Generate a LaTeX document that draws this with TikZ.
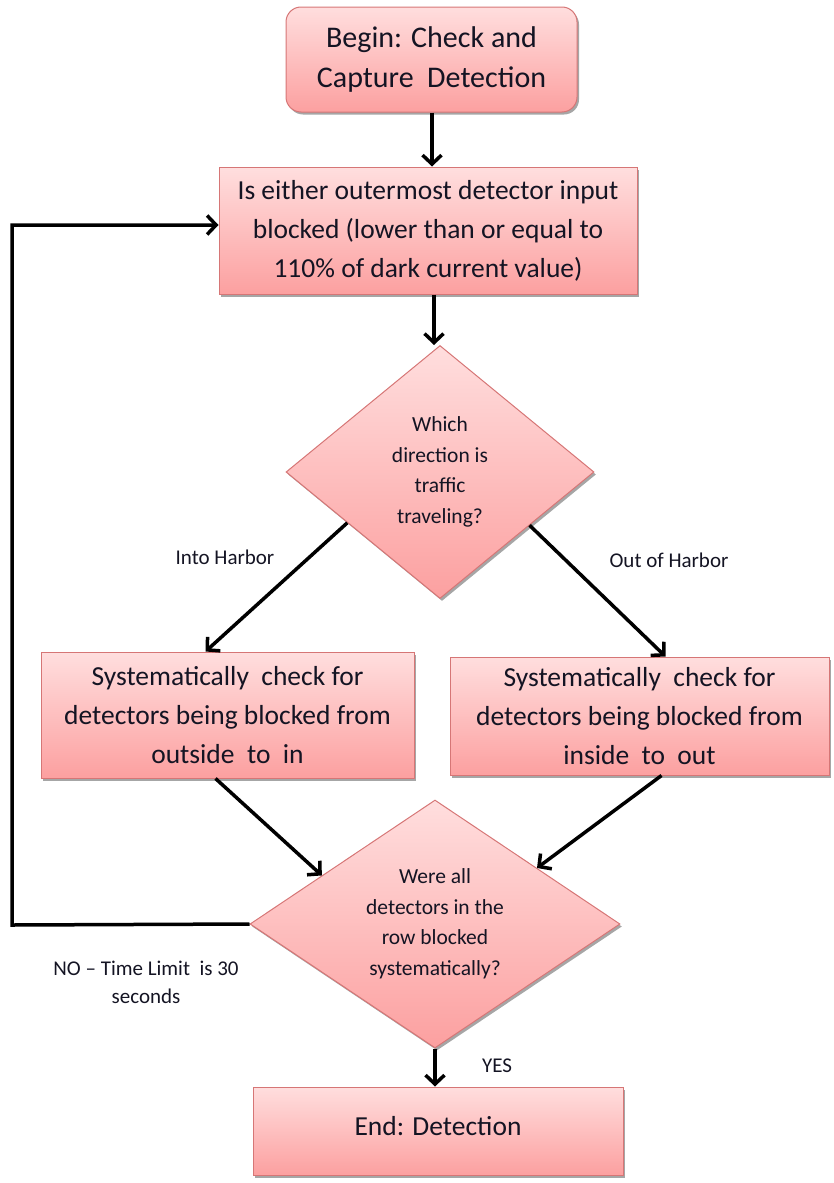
\documentclass[tikz,border=0pt]{standalone}
\usepackage{fontspec}
\setmainfont{Carlito}
\usetikzlibrary{shapes.geometric,shadows,arrows.meta,calc}
\definecolor{topc}{RGB}{255,222,222}
\definecolor{botc}{RGB}{252,160,160}
\definecolor{bordc}{RGB}{214,118,118}
\definecolor{txtc}{RGB}{20,20,35}
\tikzset{
  base/.style={draw=bordc, line width=1pt, top color=topc, bottom color=botc,
    drop shadow={shadow xshift=2pt, shadow yshift=-2.5pt, opacity=0.35, fill=black},
    align=center, inner sep=0pt, text=txtc},
  boxnode/.style={base, rectangle, font=\fontsize{27.5}{39}\selectfont},
  roundnode/.style={base, rectangle, rounded corners=15pt, font=\fontsize{30}{40}\selectfont},
  decide/.style={base, diamond, font=\fontsize{21.5}{30.5}\selectfont},
  lbl/.style={font=\fontsize{21}{28}\selectfont, text=txtc, align=center, inner sep=0pt},
  arr/.style={line width=3.5pt, -{Straight Barb[length=9pt,width=19pt]}, line join=miter},
}
\begin{document}
\begin{tikzpicture}[x=1pt,y=-1pt]
\useasboundingbox (0,0) rectangle (834,1183);
\node[roundnode, minimum width=291pt, minimum height=105pt] (start) at (431.5,59.5) {Begin: Check and\\Capture \ Detection};
\node[boxnode, minimum width=418pt, minimum height=127pt] (b2) at (428,230.5) {Is either outermost detector input\\blocked (lower than or equal to\\110\% of dark current value)};
\node[decide, minimum width=308pt, minimum height=253pt] (d1) at (440,472) {Which\\direction is\\traffic\\traveling?};
\node[boxnode, minimum width=373pt, minimum height=126pt] (lb) at (227.5,715) {Systematically \ check for\\detectors being blocked from\\outside \ to \ in};
\node[boxnode, minimum width=379pt, minimum height=118pt] (rb) at (639.5,716) {Systematically \ check for\\detectors being blocked from\\inside \ to \ out};
\node[decide, minimum width=370pt, minimum height=248pt] (d2) at (435,924) {Were all\\detectors in the\\row blocked\\systematically?};
\node[boxnode, minimum width=370pt, minimum height=88pt] (end) at (438,1131) {\raisebox{11pt}{End: Detection}};
\node[lbl] (lin) at (225,557) {Into Harbor};
\node[lbl] (lout) at (669,560) {Out of Harbor};
\node[lbl] (lno) at (146,982) {NO -- Time Limit \ is 30\\seconds};
\node[lbl] (lyes) at (497,1066) {YES};
\coordinate (loopc) at (12,925);
\draw[arr] ([xshift=0.5pt]start.south) -- ([xshift=0.5pt]start.south |- b2.north);
\draw[arr] ([xshift=6pt]b2.south) -- ([xshift=6pt]b2.south |- d1.north);
\draw[arr] ($(d1.west)!0.4!(d1.south)$) -- ([xshift=-22pt]lb.north);
\draw[arr] ($(d1.east)!0.42!(d1.south)$) -- ([xshift=26pt]rb.north);
\draw[arr] ([xshift=-12pt]lb.south) -- ($(d2.west)!0.39!(d2.north)$);
\draw[arr] ([xshift=22pt]rb.south) -- ($(d2.east)!0.45!(d2.north)$);
\draw[arr] (d2.west) -- (loopc) |- ([yshift=5.5pt]b2.west);
\draw[arr] (d2.south) -- (end.north -| d2.south);
\end{tikzpicture}
\end{document}
